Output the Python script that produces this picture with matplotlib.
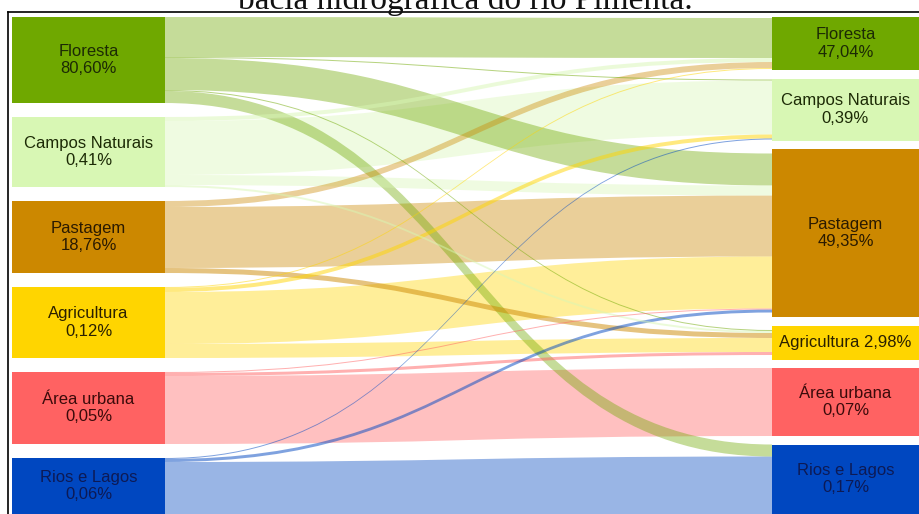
import matplotlib.pyplot as plt
from matplotlib.path import Path
from matplotlib.patches import PathPatch, Rectangle

# land-use classes (same order on both sides)
classes = ["Floresta", "Campos Naturais", "Pastagem", "Agricultura", "Área urbana", "Rios e Lagos"]
left_pct = ["80,60%", "0,41%", "18,76%", "0,12%", "0,05%", "0,06%"]
right_pct = ["47,04%", "0,39%", "49,35%", "2,98%", "0,07%", "0,17%"]

# drawn node heights
left_sizes = [86, 70, 72, 71, 72, 76]
right_sizes = [53, 62, 168, 34, 68, 84]

# drawn flow widths: rows = class on the left, columns = class on the right
flows = [
    [40, 1, 32, 1, 0, 12],
    [4, 54, 10, 2, 0, 0],
    [6, 0, 61, 5, 0, 0],
    [1, 4, 52, 14, 0, 0],
    [0, 0, 1, 3, 68, 0],
    [0, 1, 3, 0, 0, 72],
]

node_colors = ["#6fa800", "#d8f7b4", "#cc8800", "#ffd500", "#ff6262", "#0047c0"]
text_colors = ["#1c2a05", "#1c2a05", "#2a1a00", "#2a2000", "#3a0a0a", "#0d1a55"]

top = 17
left_gap, right_gap = 14, 8.5
x_left0, x_left1 = 12, 165
x_right0, x_right1 = 772, 925
y_bottom = 514

fig = plt.figure(figsize=(9.19, 5.14), dpi=100)
ax = fig.add_axes([8 / 919, 0, 911 / 919, 502 / 514])
ax.set_xlim(8, 919)
ax.set_ylim(y_bottom, 12)
ax.set_xticks([])
ax.set_yticks([])
for s in ["right", "bottom"]:
    ax.spines[s].set_visible(False)
for s in ["left", "top"]:
    ax.spines[s].set_linewidth(1.2)


def node_tops(sizes, gap):
    tops, y = [], top
    for s in sizes:
        tops.append(y)
        y += s + gap
    return tops


lt = node_tops(left_sizes, left_gap)
rt = node_tops(right_sizes, right_gap)
n = len(classes)

# where each flow leaves its left node (stacked in target order)
pos_out = {}
for i in range(n):
    y = lt[i] + (left_sizes[i] - sum(flows[i])) / 2
    for j in range(n):
        if flows[i][j] > 0:
            pos_out[(i, j)] = y
            y += flows[i][j]

# where each flow enters its right node (stacked in source order)
pos_in = {}
for j in range(n):
    col = sum(flows[i][j] for i in range(n))
    y = rt[j] + (right_sizes[j] - col) / 2
    for i in range(n):
        if flows[i][j] > 0:
            pos_in[(i, j)] = y
            y += flows[i][j]

xm = (x_left1 + x_right0) / 2
for (i, j) in sorted(pos_out, key=lambda k: -flows[k[0]][k[1]]):
    w = flows[i][j]
    y0, y1 = pos_out[(i, j)], pos_in[(i, j)]
    verts = [(x_left1, y0), (xm, y0), (xm, y1), (x_right0, y1),
             (x_right0, y1 + w), (xm, y1 + w), (xm, y0 + w), (x_left1, y0 + w),
             (x_left1, y0)]
    codes = [Path.MOVETO, Path.CURVE4, Path.CURVE4, Path.CURVE4,
             Path.LINETO, Path.CURVE4, Path.CURVE4, Path.CURVE4, Path.CLOSEPOLY]
    alpha = 0.4 if w > 5 else 0.5
    ax.add_patch(PathPatch(Path(verts, codes), facecolor=node_colors[i],
                           lw=0, alpha=alpha, zorder=1))


def label_y(t, size):
    # centre of the visible part of the node
    return (t + min(t + size, y_bottom)) / 2


font = ["Liberation Sans", "DejaVu Sans"]
for i in range(n):
    ax.add_patch(Rectangle((x_left0, lt[i]), x_left1 - x_left0, left_sizes[i],
                           facecolor=node_colors[i], lw=0, zorder=2))
    ax.text((x_left0 + x_left1) / 2, label_y(lt[i], left_sizes[i]),
            classes[i] + "\n" + left_pct[i], ha="center", va="center",
            fontsize=12, color=text_colors[i], family=font, zorder=3)
    ax.add_patch(Rectangle((x_right0, rt[i]), x_right1 - x_right0, right_sizes[i],
                           facecolor=node_colors[i], lw=0, zorder=2))
    if right_sizes[i] < 40:
        lab = classes[i] + " " + right_pct[i]
    else:
        lab = classes[i] + "\n" + right_pct[i]
    ax.text((x_right0 + 919) / 2, label_y(rt[i], right_sizes[i]), lab,
            ha="center", va="center", fontsize=12, color=text_colors[i],
            family=font, zorder=3)

# title, cut off at the top of the picture as in the source
fig.text(465 / 919, 1 - 9 / 514, "bacia hidrográfica do rio Pimenta.",
         ha="center", va="baseline", fontsize=24,
         family=["Liberation Serif", "DejaVu Serif"], color="#111111")

fig.savefig("out.png", dpi=100)
